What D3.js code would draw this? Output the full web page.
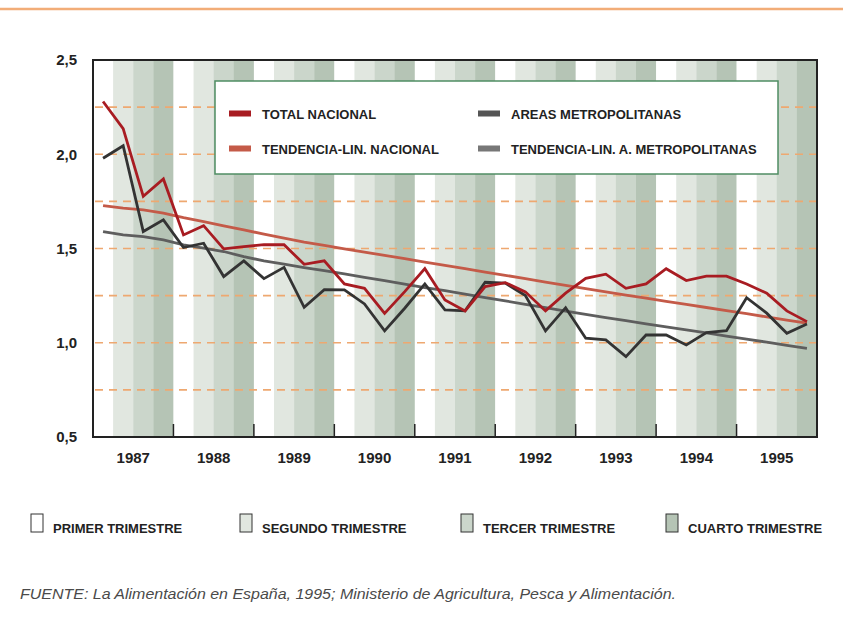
<!DOCTYPE html>
<html>
<head>
<meta charset="utf-8">
<script src="https://cdn.jsdelivr.net/npm/d3@7"></script>
<style>
  body { margin: 0; background: #fff; }
  svg text { font-family: "Liberation Sans", Arial, sans-serif; }
</style>
</head>
<body>
<svg id="chart" width="843" height="627"></svg>
<script>
// Data (one value per quarter, 1987 Q1 .. 1995 Q4)
const years = ["1987", "1988", "1989", "1990", "1991", "1992", "1993", "1994", "1995"];
const quarters = ["PRIMER TRIMESTRE", "SEGUNDO TRIMESTRE", "TERCER TRIMESTRE", "CUARTO TRIMESTRE"];
const yTicks = [0.5, 1.0, 1.5, 2.0, 2.5];

const totalNacional = [2.28, 2.136, 1.777, 1.869, 1.572, 1.621, 1.498, 1.51, 1.52, 1.52, 1.416, 1.435,
  1.312, 1.289, 1.156, 1.271, 1.393, 1.227, 1.169, 1.298, 1.319, 1.27, 1.169, 1.263,
  1.342, 1.364, 1.289, 1.312, 1.393, 1.33, 1.353, 1.353, 1.312, 1.263, 1.169, 1.112];

const areasMetro = [1.979, 2.045, 1.59, 1.652, 1.505, 1.528, 1.351, 1.434, 1.34, 1.40, 1.188, 1.282,
  1.28, 1.206, 1.063, 1.183, 1.312, 1.174, 1.169, 1.321, 1.316, 1.25, 1.063, 1.186,
  1.024, 1.015, 0.926, 1.041, 1.041, 0.988, 1.054, 1.064, 1.239, 1.157, 1.05, 1.10];

const tendNacional = [1.728, 1.714, 1.705, 1.688, 1.664, 1.643, 1.62, 1.599, 1.576, 1.555, 1.534, 1.516,
  1.498, 1.481, 1.463, 1.446, 1.428, 1.41, 1.393, 1.375, 1.358, 1.34, 1.322, 1.305,
  1.287, 1.27, 1.253, 1.237, 1.22, 1.203, 1.187, 1.17, 1.154, 1.137, 1.12, 1.104];

const tendMetro = [1.59, 1.572, 1.563, 1.546, 1.519, 1.502, 1.484, 1.457, 1.434, 1.417, 1.399, 1.383,
  1.365, 1.347, 1.329, 1.311, 1.293, 1.276, 1.258, 1.24, 1.222, 1.204, 1.186, 1.168,
  1.15, 1.133, 1.117, 1.1, 1.084, 1.068, 1.052, 1.035, 1.019, 1.003, 0.986, 0.97];

const seriesNames = ["TOTAL NACIONAL", "AREAS METROPOLITANAS", "TENDENCIA-LIN. NACIONAL", "TENDENCIA-LIN. A. METROPOLITANAS"];

// Layout
const plotL = 93, plotR = 817, plotT = 60, plotB = 437;
const nQ = years.length * quarters.length;
const bandColors = ["#ffffff", "#e1e7e0", "#cbd6cb", "#b5c4b5"];

const svg = d3.select("#chart");

const x = d3.scaleLinear().domain([0, nQ]).range([plotL, plotR]);
const y = d3.scaleLinear().domain([0.5, 2.5]).range([plotB, plotT]);
const xYear = d3.scaleBand().domain(years).range([plotL, plotR]);

// top orange rule
svg.append("line")
  .attr("x1", 0).attr("x2", 843).attr("y1", 9).attr("y2", 9)
  .attr("stroke", "#f2ad78").attr("stroke-width", 2.5);

// quarter bands
svg.append("g").selectAll("rect")
  .data(d3.range(nQ))
  .enter()
  .append("rect")
  .attr("x", i => x(i))
  .attr("y", plotT)
  .attr("width", i => x(i + 1) - x(i) + 0.3)
  .attr("height", plotB - plotT)
  .attr("fill", i => bandColors[i % 4]);

// dashed gridlines every 0.25
svg.append("g").selectAll("line")
  .data(d3.range(0.75, 2.5, 0.25))
  .enter()
  .append("line")
  .attr("x1", plotL + 2).attr("x2", plotR)
  .attr("y1", d => y(d)).attr("y2", d => y(d))
  .attr("stroke", "#eea870")
  .attr("stroke-width", 1.6)
  .attr("stroke-dasharray", "8,6");

// legend box
const lg = svg.append("g");
lg.append("rect")
  .attr("x", 215).attr("y", 81).attr("width", 563).attr("height", 93)
  .attr("fill", "#fff").attr("stroke", "#4f8d63").attr("stroke-width", 1.5);

const legendItems = [
  { name: seriesNames[0], color: "#a81c22", col: 0, row: 0 },
  { name: seriesNames[1], color: "#555555", col: 1, row: 0 },
  { name: seriesNames[2], color: "#c45a48", col: 0, row: 1 },
  { name: seriesNames[3], color: "#777777", col: 1, row: 1 }
];
const li = lg.selectAll("g.item")
  .data(legendItems)
  .enter()
  .append("g")
  .attr("transform", d => `translate(${229 + d.col * 249},${113.5 + d.row * 35})`);
li.append("rect")
  .attr("x", 0).attr("y", -3).attr("width", 22).attr("height", 6)
  .attr("fill", d => d.color);
li.append("text")
  .attr("x", 33).attr("y", 5)
  .style("font-size", "13px").style("font-weight", "bold")
  .attr("fill", "#222")
  .text(d => d.name);

// lines
const line = d3.line()
  .x((d, i) => x(i + 0.5))
  .y(d => y(d));

const lines = [
  { data: tendMetro, color: "#5e5e5e" },
  { data: tendNacional, color: "#c45a48" },
  { data: areasMetro, color: "#333333" },
  { data: totalNacional, color: "#a81c22" }
];
svg.append("g").selectAll("path")
  .data(lines)
  .enter()
  .append("path")
  .attr("d", d => line(d.data))
  .attr("fill", "none")
  .attr("stroke", d => d.color)
  .attr("stroke-width", 2.8)
  .attr("stroke-linejoin", "miter");

// frame
svg.append("rect")
  .attr("x", plotL).attr("y", plotT)
  .attr("width", plotR - plotL).attr("height", plotB - plotT)
  .attr("fill", "none").attr("stroke", "#222").attr("stroke-width", 2);

// year separator ticks
svg.append("g").selectAll("line")
  .data(years.slice(1))
  .enter()
  .append("line")
  .attr("x1", d => xYear(d)).attr("x2", d => xYear(d))
  .attr("y1", plotB).attr("y2", plotB - 13)
  .attr("stroke", "#222").attr("stroke-width", 1.5);

// y axis labels
const yAxis = d3.axisLeft(y)
  .tickValues(yTicks)
  .tickSize(0)
  .tickPadding(16)
  .tickFormat(d => d3.format(".1f")(d).replace(".", ","));
const gy = svg.append("g").attr("transform", `translate(${plotL},0)`).call(yAxis);
gy.select(".domain").remove();
gy.selectAll("text")
  .style("font-size", "15px").style("font-weight", "bold")
  .attr("fill", "#222");

// x axis year labels
const xAxis = d3.axisBottom(xYear).tickSize(0).tickPadding(15);
const gx = svg.append("g").attr("transform", `translate(0,${plotB})`).call(xAxis);
gx.select(".domain").remove();
gx.selectAll("text")
  .style("font-size", "15px").style("font-weight", "bold")
  .attr("fill", "#222");

// quarter legend
const qx = [31, 240, 461, 666];
const ql = svg.append("g").selectAll("g")
  .data(quarters)
  .enter()
  .append("g")
  .attr("transform", (d, i) => `translate(${qx[i]},514)`);
ql.append("rect")
  .attr("x", 0).attr("y", 0).attr("width", 12).attr("height", 18)
  .attr("fill", (d, i) => bandColors[i])
  .attr("stroke", "#333").attr("stroke-width", 1);
ql.append("text")
  .attr("x", 22).attr("y", 18.5)
  .style("font-size", "13px").style("font-weight", "bold")
  .attr("fill", "#222")
  .text(d => d);

// source
svg.append("text")
  .attr("x", 20).attr("y", 599)
  .attr("textLength", 656)
  .attr("lengthAdjust", "spacingAndGlyphs")
  .style("font-size", "15px").style("font-style", "italic")
  .attr("fill", "#4a4a4a")
  .text("FUENTE: La Alimentación en España, 1995; Ministerio de Agricultura, Pesca y Alimentación.");
</script>
</body>
</html>
